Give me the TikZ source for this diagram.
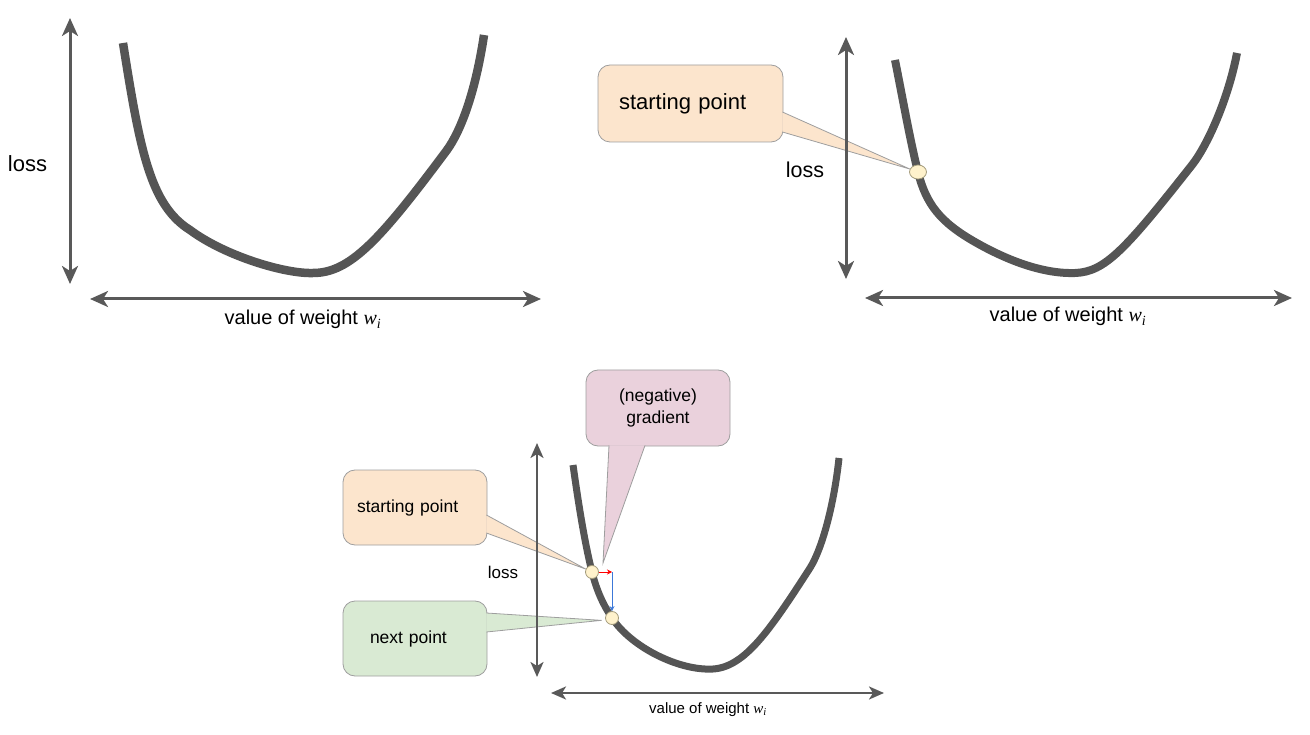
\documentclass[tikz,border=0pt]{standalone}
\usepackage{fontspec}
\setmainfont{Liberation Sans}
\newfontfamily\wfont{Liberation Serif}
\usetikzlibrary{arrows.meta, shapes.geometric, backgrounds}
\definecolor{axisgray}{HTML}{595959}
\definecolor{curvegray}{HTML}{555555}
\definecolor{calloutborder}{HTML}{9E9E9E}
\definecolor{peachfill}{HTML}{FCE5CD}
\definecolor{pinkfill}{HTML}{EAD1DC}
\definecolor{greenfill}{HTML}{D9EAD3}
\definecolor{dotfill}{HTML}{FFF2CC}
\definecolor{dotborder}{HTML}{A39B7B}
\definecolor{gradred}{HTML}{FF0000}
\definecolor{gradblue}{HTML}{3C78D8}
\newcommand{\weighti}{{\wfont\itshape w\textsubscript{i}}}
\tikzset{
    axis/.style={
        draw=axisgray, line width=3pt,
        {Stealth[length=18pt, width=16pt, inset=5pt]}-{Stealth[length=18pt, width=16pt, inset=5pt]},
    },
    smallaxis/.style={
        draw=axisgray, line width=2.5pt,
        {Stealth[length=15pt, width=13pt, inset=4pt]}-{Stealth[length=15pt, width=13pt, inset=4pt]},
    },
    curve/.style={
        draw=curvegray, line width=#1,
    },
    callout/.style={
        draw=calloutborder, fill=#1, rounded corners=12pt,
        line width=0.8pt, inner ysep=0pt, align=left,
    },
    pointer/.style={
        fill=#1, draw=calloutborder, line width=0.8pt,
    },
    dot/.style={
        circle, draw=dotborder, fill=dotfill, line width=0.8pt,
        minimum size=13pt, inner sep=0pt,
    },
    axislabel/.style={
        anchor=base, inner sep=0pt, font=\fontsize{#1}{#1}\selectfont,
    },
    gradstep/.style={
        -{Stealth[length=5pt, width=5pt]}, line width=1pt, color=#1,
    },
}

\begin{document}
\begin{tikzpicture}[x=1pt, y=-1pt]
\useasboundingbox (0,0) rectangle (1310,735);

% ── Left: the bare loss curve ────────────────────────────────
\coordinate (ybot1) at (70,284);
\coordinate (ytop1) at (70,18);
\coordinate (xleft1) at (90,299);
\coordinate (xright1) at (541,299);
\draw[axis] (ybot1) -- (ytop1);
\draw[axis] (xleft1) -- (xright1);
\node[axislabel=22] (loss1) at (27.5,172) {loss};
\node[axislabel=20] (weight1) at (303,325) {value of weight \weighti};
\draw[curve=8.5pt] (123,43) .. controls (140,150) and (150,205) .. (190,230)
    .. controls (225,256) and (285,274) .. (313,273)
    .. controls (350,273) and (380,240) .. (447,150)
    .. controls (460,132) and (475,95) .. (484,35);

% ── Right: starting point ────────────────────────────────────
\coordinate (ybot2) at (846,279);
\coordinate (ytop2) at (846,37);
\coordinate (xleft2) at (865,298);
\coordinate (xright2) at (1292,298);
\draw[axis] (ybot2) -- (ytop2);
\draw[axis] (xleft2) -- (xright2);
\node[axislabel=21.5] (loss2) at (805,178) {loss};
\node[axislabel=20] (weight2) at (1068,322) {value of weight \weighti};
\draw[curve=8pt] (895,60) .. controls (903,100) and (910,140) .. (918,172)
    .. controls (926,204) and (940,222) .. (975,242)
    .. controls (1010,262) and (1045,274) .. (1075,273)
    .. controls (1105,272) and (1125,250) .. (1192,165)
    .. controls (1207,146) and (1228,100) .. (1237,53);
\node[dot, ellipse, minimum width=17pt, minimum height=14pt] (start2) at (918,172) {};

\begin{scope}[on background layer]
\node[callout=peachfill, minimum width=185pt, minimum height=77pt, text width=143pt, inner xsep=21pt,
      font=\fontsize{22}{26}\selectfont] (start2box) at (690.5,103.5) {starting point};
\path[pointer=peachfill] ([xshift=-1pt, yshift=-8.5pt]start2box.east) -- (start2.160) -- ([xshift=-1pt, yshift=-28.5pt]start2box.east);
\end{scope}

% ── Bottom: one gradient step ────────────────────────────────
\coordinate (ybot3) at (537,677);
\coordinate (ytop3) at (537,443);
\coordinate (xleft3) at (551,693);
\coordinate (xright3) at (884,693);
\draw[smallaxis] (ybot3) -- (ytop3);
\draw[smallaxis] (xleft3) -- (xright3);
\node[axislabel=17] (loss3) at (503,578) {loss};
\node[axislabel=15] (weight3) at (708,713) {value of weight \weighti};
\draw[curve=7pt] (573,465) .. controls (578,500) and (584,540) .. (592,572)
    .. controls (597,592) and (604,606) .. (612,618)
    .. controls (632,648) and (680,671) .. (713,669)
    .. controls (745,667) and (770,630) .. (810,568)
    .. controls (822,549) and (834,505) .. (839,458);
\node[dot] (p3start) at (592,572) {};
\node[dot] (p3next) at (612,618) {};
\coordinate (gradcorner) at (p3start -| p3next);
\coordinate (gradtip) at (603,563);
\draw[gradstep=gradred] (p3start) -- (gradcorner);
\draw[gradstep=gradblue] (gradcorner) -- (p3next);

\begin{scope}[on background layer]
\node[callout=peachfill, minimum width=144pt, minimum height=75pt, text width=116pt, inner xsep=14pt,
      font=\fontsize{17.5}{21}\selectfont] (start3box) at (415,507.5) {starting point};
\path[pointer=peachfill] ([xshift=-1pt, yshift=-7.5pt]start3box.east) -- (p3start.155) -- ([xshift=-1pt, yshift=-25.5pt]start3box.east);

\node[callout=greenfill, minimum width=144pt, minimum height=75pt, text width=90pt, inner xsep=27pt,
      font=\fontsize{17.5}{21}\selectfont] (next3box) at (415,638.5) {next point};
\path[pointer=greenfill] ([xshift=-1pt, yshift=25.5pt]next3box.east) -- ([xshift=-4pt]p3next.200) -- ([xshift=-1pt, yshift=6.5pt]next3box.east);

\node[callout=pinkfill, align=center, minimum width=144pt, minimum height=76pt, inner xsep=0pt,
      font=\fontsize{17.5}{22}\selectfont] (gradbox) at (658,408) {(negative)\\gradient};
\path[pointer=pinkfill] ([xshift=-49pt, yshift=1pt]gradbox.south) -- (gradtip) -- ([xshift=-13pt, yshift=1pt]gradbox.south);
\end{scope}

\end{tikzpicture}
\end{document}
